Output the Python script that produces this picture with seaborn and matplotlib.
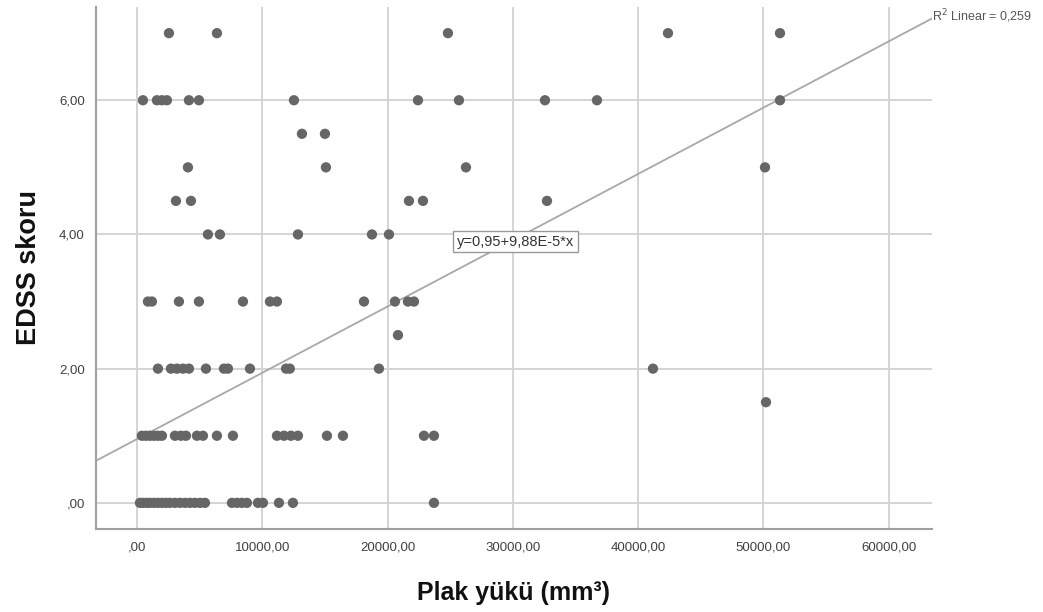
import matplotlib
matplotlib.use("Agg")
import matplotlib.pyplot as plt
import seaborn as sns
import numpy as np
import pandas as pd

# Plaque volume (mm³) and EDSS score per patient
plak_yuku = [
    # EDSS 0
    240, 479, 798, 1037, 1357, 1676, 1995, 2314, 2634, 3033, 3432, 3831, 4230, 4629, 5028, 5427,
    7582, 7981, 8380, 8779, 9657, 10056, 11333, 12450, 23703,
    # EDSS 1
    399, 718, 1037, 1357, 1676, 1995, 3033, 3512, 3911, 4789, 5267, 6385, 7662,
    11173, 11732, 12291, 12849, 15163, 16440, 22905, 23703,
    # EDSS 1.5
    50200,
    # EDSS 2
    1676, 2713, 3192, 3671, 4150, 5507, 6943, 7263, 9018, 11900, 12200, 19314, 41181,
    # EDSS 2.5
    20830,
    # EDSS 3
    878, 1197, 3352, 4948, 8460, 10615, 11173, 18117, 20590, 21628, 22107,
    # EDSS 4
    5666, 6624, 12849, 18755, 20112,
    # EDSS 4.5
    3113, 4310, 21708, 22825, 32722,
    # EDSS 5
    4070, 15084, 26257, 50120,
    # EDSS 5.5
    13168, 15004,
    # EDSS 6
    479, 1596, 1995, 2394, 4150, 4948, 12530, 22426, 25698, 32562, 36712, 51317,
    # EDSS 7
    2554, 6385, 24820, 42378, 51317,
]
edss = (
    [0.0] * 25 + [1.0] * 21 + [1.5] + [2.0] * 13 + [2.5] + [3.0] * 11
    + [4.0] * 5 + [4.5] * 5 + [5.0] * 4 + [5.5] * 2 + [6.0] * 12 + [7.0] * 5
)

# Linear fit reported with the chart
intercept = 0.95
slope = 9.88e-5
r2_text = "R$^2$ Linear = 0,259"
eq_text = "y=0,95+9,88E-5*x"

x_ticks = [0, 10000, 20000, 30000, 40000, 50000, 60000]
x_ticklabels = [",00", "10000,00", "20000,00", "30000,00", "40000,00", "50000,00", "60000,00"]
y_ticks = [0, 2, 4, 6]
y_ticklabels = [",00", "2,00", "4,00", "6,00"]

df = pd.DataFrame({"Plak": plak_yuku, "EDSS": edss})

sns.set_theme(style="white")
plt.rcParams["font.family"] = ["Liberation Sans", "DejaVu Sans"]

fig = plt.figure(figsize=(10.43, 6.12), dpi=100)
ax = fig.add_axes([0.092, 0.1356, 0.8016, 0.853])

xlim = (-3270, 63450)
ylim = (-0.39, 7.39)

# Fit line across the full x range
line_df = pd.DataFrame({"Plak": list(xlim)})
line_df["EDSS"] = intercept + slope * line_df["Plak"]
sns.lineplot(data=line_df, x="Plak", y="EDSS", ax=ax, color="#a8a8a8",
             linewidth=1.3, zorder=2)

sns.scatterplot(data=df, x="Plak", y="EDSS", ax=ax, color="#666666",
                s=55, edgecolor="none", zorder=3)

ax.set_xlim(*xlim)
ax.set_ylim(*ylim)
ax.set_xticks(x_ticks)
ax.set_xticklabels(x_ticklabels)
ax.set_yticks(y_ticks)
ax.set_yticklabels(y_ticklabels)
ax.tick_params(axis="both", length=0, labelsize=9.5, colors="#404040")
ax.tick_params(axis="x", pad=9)
ax.tick_params(axis="y", pad=8)

ax.grid(True, color="#d4d4d4", linewidth=1.4, zorder=0)
ax.set_axisbelow(True)
for side in ("top", "right"):
    ax.spines[side].set_visible(False)
for side in ("left", "bottom"):
    ax.spines[side].set_color("#a0a0a0")
    ax.spines[side].set_linewidth(1.5)

ax.set_xlabel("Plak yükü (mm³)", fontsize=18, fontweight="bold", color="#111111",
              labelpad=20)
ax.set_ylabel("EDSS skoru", fontsize=19.5, fontweight="bold", color="#111111",
              labelpad=12)

# Equation label in a box on the fit line
ax.text(30200, 3.89, eq_text, fontsize=10.5, color="#333333", ha="center", va="center",
        bbox=dict(boxstyle="square,pad=0.25", facecolor="white", edgecolor="#999999",
                  linewidth=1.0), zorder=4)

# R² label at the end of the fit line
ax.text(xlim[1], intercept + slope * xlim[1] + 0.03, r2_text, fontsize=9,
        color="#555555", ha="left", va="center", clip_on=False)

fig.savefig("out.png", dpi=100)
